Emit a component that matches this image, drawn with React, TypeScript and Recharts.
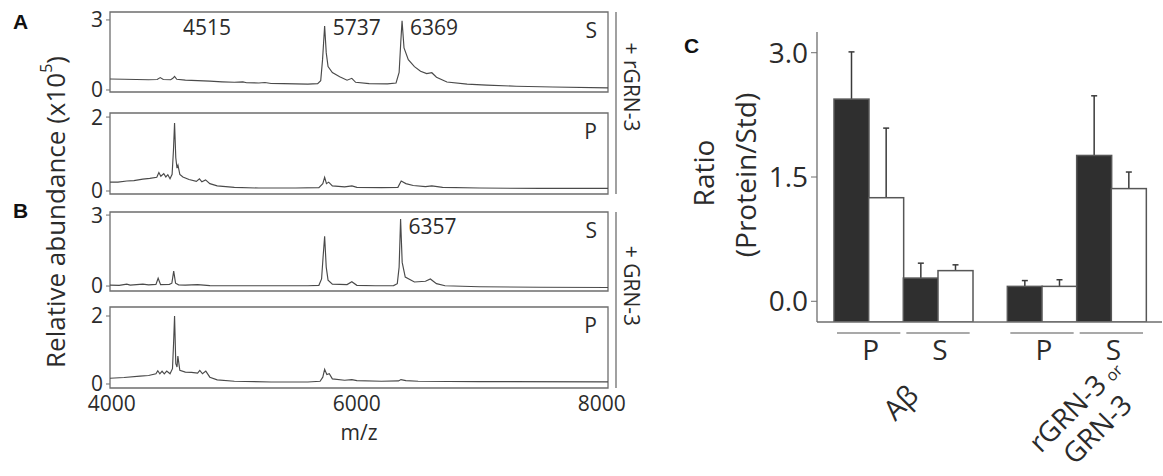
import React from 'react'
import {
  LineChart,
  Line,
  BarChart,
  Bar,
  XAxis,
  YAxis,
  ReferenceArea,
  ReferenceDot,
} from 'recharts'

const FONT = '"Open Sans", sans-serif'
const INK = '#2b2b2b'
const FRAME = '#6e6e6e'
const TRACE = '#4a4a4a'

// m/z axis shared by all four spectra
const mzRange = [3985, 8050]
const mzTicks = [4000, 6000, 8000]

// spectra: [m/z, relative abundance (x10^5)]
const aSupernatant = [
  [3985, 0.47], [4100, 0.46], [4200, 0.45], [4300, 0.44], [4370, 0.45], [4395, 0.53],
  [4420, 0.45], [4480, 0.44], [4498, 0.5], [4512, 0.58], [4530, 0.46], [4600, 0.42],
  [4700, 0.4], [4800, 0.38], [4900, 0.35], [5000, 0.33], [5070, 0.35], [5100, 0.31],
  [5200, 0.3], [5250, 0.32], [5300, 0.28], [5400, 0.27], [5500, 0.26], [5600, 0.25],
  [5680, 0.27], [5705, 0.4], [5720, 1.3], [5737, 2.74], [5750, 1.6], [5765, 1.0],
  [5800, 0.75], [5860, 0.57], [5920, 0.42], [5959, 0.5], [5990, 0.33], [6100, 0.27],
  [6250, 0.26], [6320, 0.3], [6345, 0.75], [6358, 2.0], [6369, 2.96], [6385, 1.8],
  [6420, 1.3], [6470, 1.0], [6520, 0.8], [6570, 0.7], [6612, 0.74], [6650, 0.55],
  [6735, 0.34], [6900, 0.25], [7060, 0.21], [7300, 0.16], [7600, 0.13], [8050, 0.09],
]
const aPellet = [
  [3985, 0.24], [4050, 0.24], [4122, 0.27], [4180, 0.28], [4253, 0.32], [4310, 0.34],
  [4367, 0.37], [4384, 0.5], [4400, 0.4], [4424, 0.47], [4441, 0.38], [4457, 0.44],
  [4475, 0.33], [4492, 0.45], [4503, 1.1], [4512, 1.84], [4522, 0.9], [4532, 0.62],
  [4540, 0.7], [4555, 0.45], [4580, 0.38], [4630, 0.31], [4690, 0.26], [4715, 0.33],
  [4735, 0.25], [4765, 0.3], [4800, 0.2], [4860, 0.14], [5000, 0.1], [5200, 0.08],
  [5500, 0.08], [5690, 0.09], [5722, 0.2], [5737, 0.37], [5752, 0.2], [5770, 0.24],
  [5800, 0.14], [5900, 0.11], [5960, 0.14], [6000, 0.1], [6200, 0.09], [6335, 0.1],
  [6362, 0.27], [6400, 0.2], [6460, 0.15], [6560, 0.12], [6612, 0.14], [6700, 0.1],
  [7000, 0.08], [7500, 0.07], [8050, 0.07],
]
const bSupernatant = [
  [3985, 0.04], [4060, 0.03], [4122, 0.08], [4150, 0.04], [4253, 0.08], [4300, 0.05],
  [4360, 0.07], [4378, 0.33], [4398, 0.06], [4470, 0.07], [4490, 0.12], [4505, 0.63],
  [4520, 0.12], [4545, 0.05], [4600, 0.04], [4700, 0.06], [4800, 0.02], [5000, 0.01],
  [5300, 0.01], [5600, 0.01], [5690, 0.03], [5712, 0.3], [5724, 1.2], [5737, 2.1],
  [5750, 0.8], [5765, 0.25], [5800, 0.08], [5920, 0.06], [5959, 0.18], [6000, 0.03],
  [6150, 0.01], [6300, 0.02], [6330, 0.1], [6345, 0.8], [6357, 2.83], [6370, 1.0],
  [6395, 0.38], [6470, 0.17], [6560, 0.2], [6600, 0.3], [6650, 0.1], [6720, 0.01],
  [7000, -0.03], [7500, -0.05], [8050, -0.06],
]
const bPellet = [
  [3985, 0.17], [4100, 0.19], [4230, 0.23], [4300, 0.25], [4360, 0.3], [4375, 0.39],
  [4392, 0.3], [4410, 0.38], [4428, 0.3], [4448, 0.38], [4475, 0.3], [4495, 0.45],
  [4504, 1.2], [4512, 2.0], [4522, 0.6], [4532, 0.5], [4539, 0.82], [4555, 0.4],
  [4600, 0.35], [4650, 0.34], [4700, 0.32], [4718, 0.4], [4740, 0.3], [4767, 0.38],
  [4800, 0.2], [4860, 0.12], [5000, 0.08], [5300, 0.06], [5600, 0.06], [5700, 0.08],
  [5722, 0.2], [5737, 0.43], [5755, 0.28], [5775, 0.3], [5800, 0.15], [5900, 0.11],
  [5959, 0.13], [6000, 0.1], [6200, 0.08], [6340, 0.09], [6360, 0.13], [6400, 0.1],
  [6500, 0.08], [7000, 0.07], [8050, 0.06],
]

// annotated peaks: [m/z, height of the label]
const aPeaks = [[4515, 2.66], [5737, 2.66], [6369, 2.66]]
const bPeaks = [[6357, 2.53]]

// panel C: one slot per bar, empty slot between the two proteins
const fractions = ['P', 'P', 'S', 'S', '', 'P', 'P', 'S', 'S']
const tones = ['dark', 'light', 'dark', 'light', '', 'dark', 'light', 'dark', 'light']
const ratios = [2.44, 1.25, 0.28, 0.37, null, 0.18, 0.18, 1.76, 1.36]
const ratioErr = [0.57, 0.84, 0.18, 0.07, null, 0.07, 0.08, 0.72, 0.2]
const ratioTicks = [0, 1.5, 3]
const RATIO_MIN = -0.25
const RATIO_MAX = 3.25
const proteinStart = [0, 5]
const proteinLines = [['Aβ'], ['rGRN-3', 'GRN-3']]

// layout of panel C
const C_PLOT_W = 345
const C_PAD = { left: 17, right: 16 }
const SLOT = (C_PLOT_W - C_PAD.left - C_PAD.right) / fractions.length

const PAD_Y = 14

function Spectrum({ data, left, top, plotH, yDomain, yTop, peaks, tag, axis }: any) {
  const rows = data.map(([mz, v]: number[]) => ({ mz, v }))
  const axisH = axis ? 53 : 0
  const bottom = axis ? 6 : PAD_Y
  return (
    <div style={{ position: 'absolute', left, top: top - PAD_Y }}>
      <LineChart
        width={570}
        height={plotH + PAD_Y + axisH + bottom}
        data={rows}
        margin={{ top: PAD_Y, right: 28, bottom, left: 0 }}
        style={{ fontFamily: FONT }}
      >
        <XAxis
          dataKey="mz"
          type="number"
          domain={mzRange}
          ticks={mzTicks}
          hide={!axis}
          height={axisH}
          axisLine={false}
          tickLine={false}
          tickSize={0}
          tickMargin={8}
          tick={{ fontSize: 21, fill: INK }}
          allowDataOverflow
          label={{ value: 'm/z', position: 'insideBottom', offset: 1, fontSize: 21, fill: INK }}
        />
        <YAxis
          domain={yDomain}
          ticks={[0, yTop]}
          width={44}
          axisLine={false}
          tickSize={4}
          tickMargin={3}
          tickLine={{ stroke: FRAME }}
          tick={{ fontSize: 21, fill: INK }}
          allowDataOverflow
        />
        <ReferenceArea
          x1={mzRange[0]}
          x2={mzRange[1]}
          y1={yDomain[0]}
          y2={yDomain[1]}
          fill="none"
          stroke={FRAME}
          strokeWidth={1.3}
          label={{ value: tag, position: 'insideTopRight', offset: 11, fontSize: 21, fill: INK }}
        />
        <Line
          dataKey="v"
          type="linear"
          dot={false}
          stroke={TRACE}
          strokeWidth={1.15}
          isAnimationActive={false}
        />
        {peaks.map(([mz, h]: number[]) => (
          <ReferenceDot
            key={mz}
            x={mz}
            y={h}
            r={1}
            fill="none"
            stroke="none"
            label={{ value: String(mz), position: 'right', offset: 7, fontSize: 21, fill: INK }}
          />
        ))}
      </LineChart>
    </div>
  )
}

function RatioBar(props: any) {
  const { x, y, width, height, payload } = props
  if (payload.ratio == null || !height) return null
  const pxPerUnit = height / (payload.ratio - RATIO_MIN)
  const errTop = y - payload.err * pxPerUnit
  const cx = x + width / 2
  return (
    <g>
      <line x1={cx} x2={cx} y1={y} y2={errTop} stroke="#3a3a3a" strokeWidth={1.5} />
      <line x1={cx - 3} x2={cx + 3} y1={errTop} y2={errTop} stroke="#3a3a3a" strokeWidth={1.5} />
      <rect
        x={x}
        y={y}
        width={width}
        height={height}
        fill={payload.tone === 'dark' ? '#2f2f2f' : '#fff'}
        stroke="#575757"
        strokeWidth={1.5}
      />
    </g>
  )
}

function FractionTick(props: any) {
  const { x, y, index } = props
  const f = fractions[index]
  const starts = f !== '' && (index === 0 || fractions[index - 1] !== f)
  const p = proteinStart.indexOf(index)
  const gx = x + SLOT * 1.5
  return (
    <g style={{ fontFamily: FONT }} fill={INK}>
      {starts && (
        <>
          <line x1={x - SLOT / 2 + 3} x2={x + SLOT * 1.5 - 3} y1={y + 11} y2={y + 11} stroke="#555" strokeWidth={1.2} />
          <text x={x + SLOT / 2 + 2} y={y + 38} textAnchor="middle" fontSize={28}>
            {f}
          </text>
        </>
      )}
      {p === 0 && (
        <text x={gx - 8} y={y + 100} fontSize={28} transform={`rotate(-45 ${gx - 8} ${y + 100})`}>
          {proteinLines[0][0]}
        </text>
      )}
      {p === 1 && (
        <>
          <text x={gx - 36} y={y + 132} fontSize={28} transform={`rotate(-45 ${gx - 36} ${y + 132})`}>
            {proteinLines[1][0]}
            <tspan fontSize={16} dx={6}>or</tspan>
          </text>
          <text x={gx - 2} y={y + 144} fontSize={28} transform={`rotate(-45 ${gx - 2} ${y + 144})`}>
            {proteinLines[1][1]}
          </text>
        </>
      )}
    </g>
  )
}

function RatioPanel() {
  const rows = fractions.map((f, i) => ({
    slot: String(i),
    fraction: f,
    tone: tones[i],
    ratio: ratios[i],
    err: ratioErr[i],
  }))
  return (
    <div style={{ position: 'absolute', left: 760, top: 0 }}>
      <BarChart
        width={403}
        height={476}
        data={rows}
        margin={{ top: 32, right: 1, bottom: 0, left: 0 }}
        barCategoryGap={0}
        barGap={0}
        style={{ fontFamily: FONT }}
      >
        <XAxis
          dataKey="slot"
          interval={0}
          padding={C_PAD}
          height={154}
          axisLine={{ stroke: FRAME, strokeWidth: 1.3 }}
          tickLine={false}
          tickSize={0}
          tickMargin={0}
          tick={(p: any) => <FractionTick {...p} />}
        />
        <XAxis
          xAxisId="top"
          dataKey="slot"
          orientation="top"
          height={0}
          tick={false}
          tickLine={false}
          axisLine={{ stroke: FRAME, strokeWidth: 1.3 }}
        />
        <YAxis
          domain={[RATIO_MIN, RATIO_MAX]}
          ticks={ratioTicks}
          tickFormatter={(v: number) => v.toFixed(1)}
          width={57}
          axisLine={{ stroke: FRAME, strokeWidth: 1.3 }}
          tickLine={{ stroke: FRAME }}
          tickSize={6}
          tickMargin={3}
          tick={{ fontSize: 28, fill: INK }}
          allowDataOverflow
        />
        <YAxis
          yAxisId="right"
          orientation="right"
          width={0}
          tick={false}
          tickLine={false}
          axisLine={{ stroke: FRAME, strokeWidth: 1.3 }}
        />
        <Bar
          dataKey={(r: any) => (r.ratio == null ? null : [RATIO_MIN, r.ratio])}
          shape={(p: any) => <RatioBar {...p} />}
          isAnimationActive={false}
        />
      </BarChart>
    </div>
  )
}

export default function App() {
  return (
    <div style={{ position: 'absolute', left: 0, top: 0, width: 1163, height: 476, background: '#fff', fontFamily: FONT, overflow: 'hidden' }}>
      <Spectrum data={aSupernatant} left={66} top={12} plotH={80} yDomain={[-0.086, 3.34]} yTop={3} peaks={aPeaks} tag="S" />
      <Spectrum data={aPellet} left={66} top={113} plotH={81} yDomain={[-0.081, 2.11]} yTop={2} peaks={[]} tag="P" />
      <Spectrum data={bSupernatant} left={66} top={212} plotH={79} yDomain={[-0.21, 3.13]} yTop={3} peaks={bPeaks} tag="S" />
      <Spectrum data={bPellet} left={66} top={307} plotH={81} yDomain={[-0.118, 2.265]} yTop={2} peaks={[]} tag="P" axis />
      <RatioPanel />
      <svg width={1163} height={476} style={{ position: 'absolute', left: 0, top: 0, pointerEvents: 'none' }}>
        <g fontFamily='"Liberation Sans", Arial, sans-serif' fontWeight="bold" fontSize={21} fill="#111">
          <text x={13} y={29}>A</text>
          <text x={13} y={218}>B</text>
          <text x={684} y={53}>C</text>
        </g>
        <g fontFamily={FONT} fill={INK}>
          <text x={55} y={212} fontSize={26} textAnchor="middle" dominantBaseline="central" transform="rotate(-90 55 212)">
            Relative abundance (x10<tspan fontSize={16} dy={-9}>5</tspan><tspan dy={9}>)</tspan>
          </text>
          <text x={632} y={87} fontSize={21} textAnchor="middle" dominantBaseline="central" transform="rotate(90 632 87)">
            + rGRN-3
          </text>
          <text x={632} y={286} fontSize={21} textAnchor="middle" dominantBaseline="central" transform="rotate(90 632 286)">
            + GRN-3
          </text>
          <text x={703} y={173} fontSize={28} textAnchor="middle" dominantBaseline="central" transform="rotate(-90 703 173)">
            Ratio
          </text>
          <text x={745} y={175} fontSize={28} textAnchor="middle" dominantBaseline="central" transform="rotate(-90 745 175)">
            (Protein/Std)
          </text>
        </g>
        <line x1={616} x2={616} y1={12} y2={194} stroke={FRAME} strokeWidth={1.3} />
        <line x1={616} x2={616} y1={212} y2={388} stroke={FRAME} strokeWidth={1.3} />
      </svg>
    </div>
  )
}
